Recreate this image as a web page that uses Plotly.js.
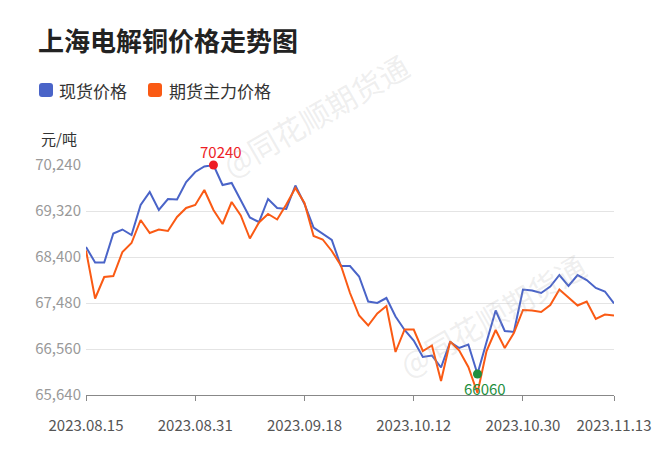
<!DOCTYPE html>
<html>
<head>
<meta charset="utf-8">
<script src="https://cdn.plot.ly/plotly-3.0.1.min.js"></script>
<style>
html,body{margin:0;padding:0;background:#fff;}
#chart{width:660px;height:449px;}
</style>
</head>
<body>
<div id="chart"></div>
<script>
// ---- data ----
const dates = [
  '2023.08.15','2023.08.16','2023.08.17','2023.08.18','2023.08.21','2023.08.22','2023.08.23','2023.08.24','2023.08.25','2023.08.28',
  '2023.08.29','2023.08.30','2023.08.31','2023.09.01','2023.09.04','2023.09.05','2023.09.06','2023.09.07','2023.09.08','2023.09.11',
  '2023.09.12','2023.09.13','2023.09.14','2023.09.15','2023.09.18','2023.09.19','2023.09.20','2023.09.21','2023.09.22','2023.09.25',
  '2023.09.26','2023.09.27','2023.09.28','2023.10.09','2023.10.10','2023.10.11','2023.10.12','2023.10.13','2023.10.16','2023.10.17',
  '2023.10.18','2023.10.19','2023.10.20','2023.10.23','2023.10.24','2023.10.25','2023.10.26','2023.10.27','2023.10.30','2023.10.31',
  '2023.11.01','2023.11.02','2023.11.03','2023.11.06','2023.11.07','2023.11.08','2023.11.09','2023.11.10','2023.11.13'
];
const spotPrice = [
  68600,68290,68290,68870,68950,68840,69440,69700,69340,69560,
  69550,69900,70100,70210,70240,69840,69880,69530,69190,69100,
  69560,69380,69360,69830,69460,68990,68870,68740,68220,68220,
  68010,67510,67480,67580,67210,66940,66730,66400,66430,66190,
  66700,66580,66650,66060,66700,67330,66920,66900,67750,67730,
  67680,67810,68040,67820,68040,67940,67780,67710,67470
];
const futuresPrice = [
  68530,67570,68000,68020,68500,68680,69140,68880,68950,68920,
  69200,69380,69440,69740,69340,69060,69500,69230,68770,69090,
  69260,69150,69450,69780,69480,68820,68750,68520,68230,67680,
  67230,67030,67270,67420,66500,66950,66950,66520,66630,65920,
  66710,66530,66200,65680,66520,66940,66580,66880,67340,67330,
  67300,67440,67750,67590,67430,67510,67160,67250,67230
];
const seriesNames = ['现货价格', '期货主力价格'];
const yTicks = [65640, 66560, 67480, 68400, 69320, 70240];
const xTickDates = ['2023.08.15','2023.08.31','2023.09.18','2023.10.12','2023.10.30','2023.11.13'];
const chartTitle = '上海电解铜价格走势图';
const unitLabel = '元/吨';
const watermark = '@同花顺期货通';

// ---- styling / layout ----
const FONT = '"Noto Sans CJK SC", "Noto Sans", sans-serif';
const BLUE = '#4a64c8';
const ORANGE = '#fa5a14';
const RED = '#ee1c25';
const GREEN = '#1f8f3f';
const W = 660, H = 449;
const M = {l: 86, r: 46, t: 165, b: 54};
const PW = W - M.l - M.r, PH = H - M.t - M.b;
const px2x = p => (p - M.l) / PW;
const px2y = p => (H - M.b - p) / PH;

function roundRect(x0, y0, x1, y1, r) {
  const X = px2x, Y = px2y;
  return `M${X(x0+r)},${Y(y0)} L${X(x1-r)},${Y(y0)} Q${X(x1)},${Y(y0)} ${X(x1)},${Y(y0+r)} ` +
         `L${X(x1)},${Y(y1-r)} Q${X(x1)},${Y(y1)} ${X(x1-r)},${Y(y1)} L${X(x0+r)},${Y(y1)} ` +
         `Q${X(x0)},${Y(y1)} ${X(x0)},${Y(y1-r)} L${X(x0)},${Y(y0+r)} Q${X(x0)},${Y(y0)} ${X(x0+r)},${Y(y0)} Z`;
}

let iMax = 0, iMin = 0;
spotPrice.forEach((v, i) => {
  if (v > spotPrice[iMax]) iMax = i;
  if (v < spotPrice[iMin]) iMin = i;
});

const traces = [
  {x: dates, y: spotPrice, type: 'scatter', mode: 'lines', name: seriesNames[0],
   line: {color: BLUE, width: 2}, showlegend: false, hoverinfo: 'skip'},
  {x: dates, y: futuresPrice, type: 'scatter', mode: 'lines', name: seriesNames[1],
   line: {color: ORANGE, width: 2}, showlegend: false, hoverinfo: 'skip'},
  {x: [dates[iMax]], y: [spotPrice[iMax]], type: 'scatter', mode: 'markers',
   marker: {color: RED, size: 9}, showlegend: false, cliponaxis: false, hoverinfo: 'skip'},
  {x: [dates[iMin]], y: [spotPrice[iMin]], type: 'scatter', mode: 'markers',
   marker: {color: GREEN, size: 9}, showlegend: false, cliponaxis: false, hoverinfo: 'skip'}
];

const layout = {
  width: W, height: H,
  margin: M,
  paper_bgcolor: '#fff', plot_bgcolor: '#fff',
  font: {family: FONT},
  title: {
    text: chartTitle, x: 38 / W, xref: 'container', xanchor: 'left',
    y: 1 - 42 / H, yref: 'container', yanchor: 'middle',
    font: {family: FONT, size: 26, color: '#222', weight: 700}
  },
  xaxis: {
    type: 'category', range: [0, dates.length - 1],
    tickvals: xTickDates, ticktext: xTickDates,
    ticks: 'outside', ticklen: 5, tickcolor: '#888', tickwidth: 1,
    showline: true, linecolor: '#888', linewidth: 1,
    showgrid: false, zeroline: false,
    tickfont: {family: FONT, size: 15, color: '#555'},
    ticklabelstandoff: 12,
    automargin: false, fixedrange: true
  },
  yaxis: {
    range: [yTicks[0], yTicks[yTicks.length - 1]],
    tickvals: yTicks, tickformat: ',d',
    showgrid: true, gridcolor: '#e4e4e4', gridwidth: 1,
    zeroline: false, showline: false, ticks: '',
    tickfont: {family: FONT, size: 15, color: '#999'},
    ticklabelstandoff: 4,
    automargin: false, fixedrange: true
  },
  shapes: [
    {type: 'path', xref: 'paper', yref: 'paper', path: roundRect(39, 83, 53, 97, 3),
     fillcolor: BLUE, line: {width: 0}},
    {type: 'path', xref: 'paper', yref: 'paper', path: roundRect(148, 83, 162, 97, 3),
     fillcolor: ORANGE, line: {width: 0}}
  ],
  annotations: [
    {xref: 'paper', yref: 'paper', x: px2x(57), y: px2y(90), xanchor: 'left', yanchor: 'middle',
     text: seriesNames[0], showarrow: false, font: {family: FONT, size: 17, color: '#333'}},
    {xref: 'paper', yref: 'paper', x: px2x(167), y: px2y(90), xanchor: 'left', yanchor: 'middle',
     text: seriesNames[1], showarrow: false, font: {family: FONT, size: 17, color: '#333'}},
    {xref: 'paper', yref: 'paper', x: px2x(79), y: px2y(138), xanchor: 'right', yanchor: 'middle',
     text: unitLabel, showarrow: false, font: {family: FONT, size: 15, color: '#333'}},
    {x: dates[iMax], y: spotPrice[iMax], xref: 'x', yref: 'y', text: String(spotPrice[iMax]),
     showarrow: false, xshift: 8, yshift: 14, xanchor: 'center', yanchor: 'middle',
     font: {family: FONT, size: 15, color: RED}},
    {x: dates[iMin], y: spotPrice[iMin], xref: 'x', yref: 'y', text: String(spotPrice[iMin]),
     showarrow: false, xshift: 8, yshift: -14, xanchor: 'center', yanchor: 'middle',
     font: {family: FONT, size: 15, color: GREEN}},
    {xref: 'paper', yref: 'paper', x: px2x(315), y: px2y(115), xanchor: 'center', yanchor: 'middle',
     text: watermark, showarrow: false, textangle: -30,
     font: {family: FONT, size: 30, color: 'rgba(170,170,170,0.2)'}},
    {xref: 'paper', yref: 'paper', x: px2x(492), y: px2y(315), xanchor: 'center', yanchor: 'middle',
     text: watermark, showarrow: false, textangle: -30,
     font: {family: FONT, size: 30, color: 'rgba(170,170,170,0.2)'}}
  ]
};

Plotly.newPlot('chart', traces, layout, {displayModeBar: false, staticPlot: true});
</script>
</body>
</html>
